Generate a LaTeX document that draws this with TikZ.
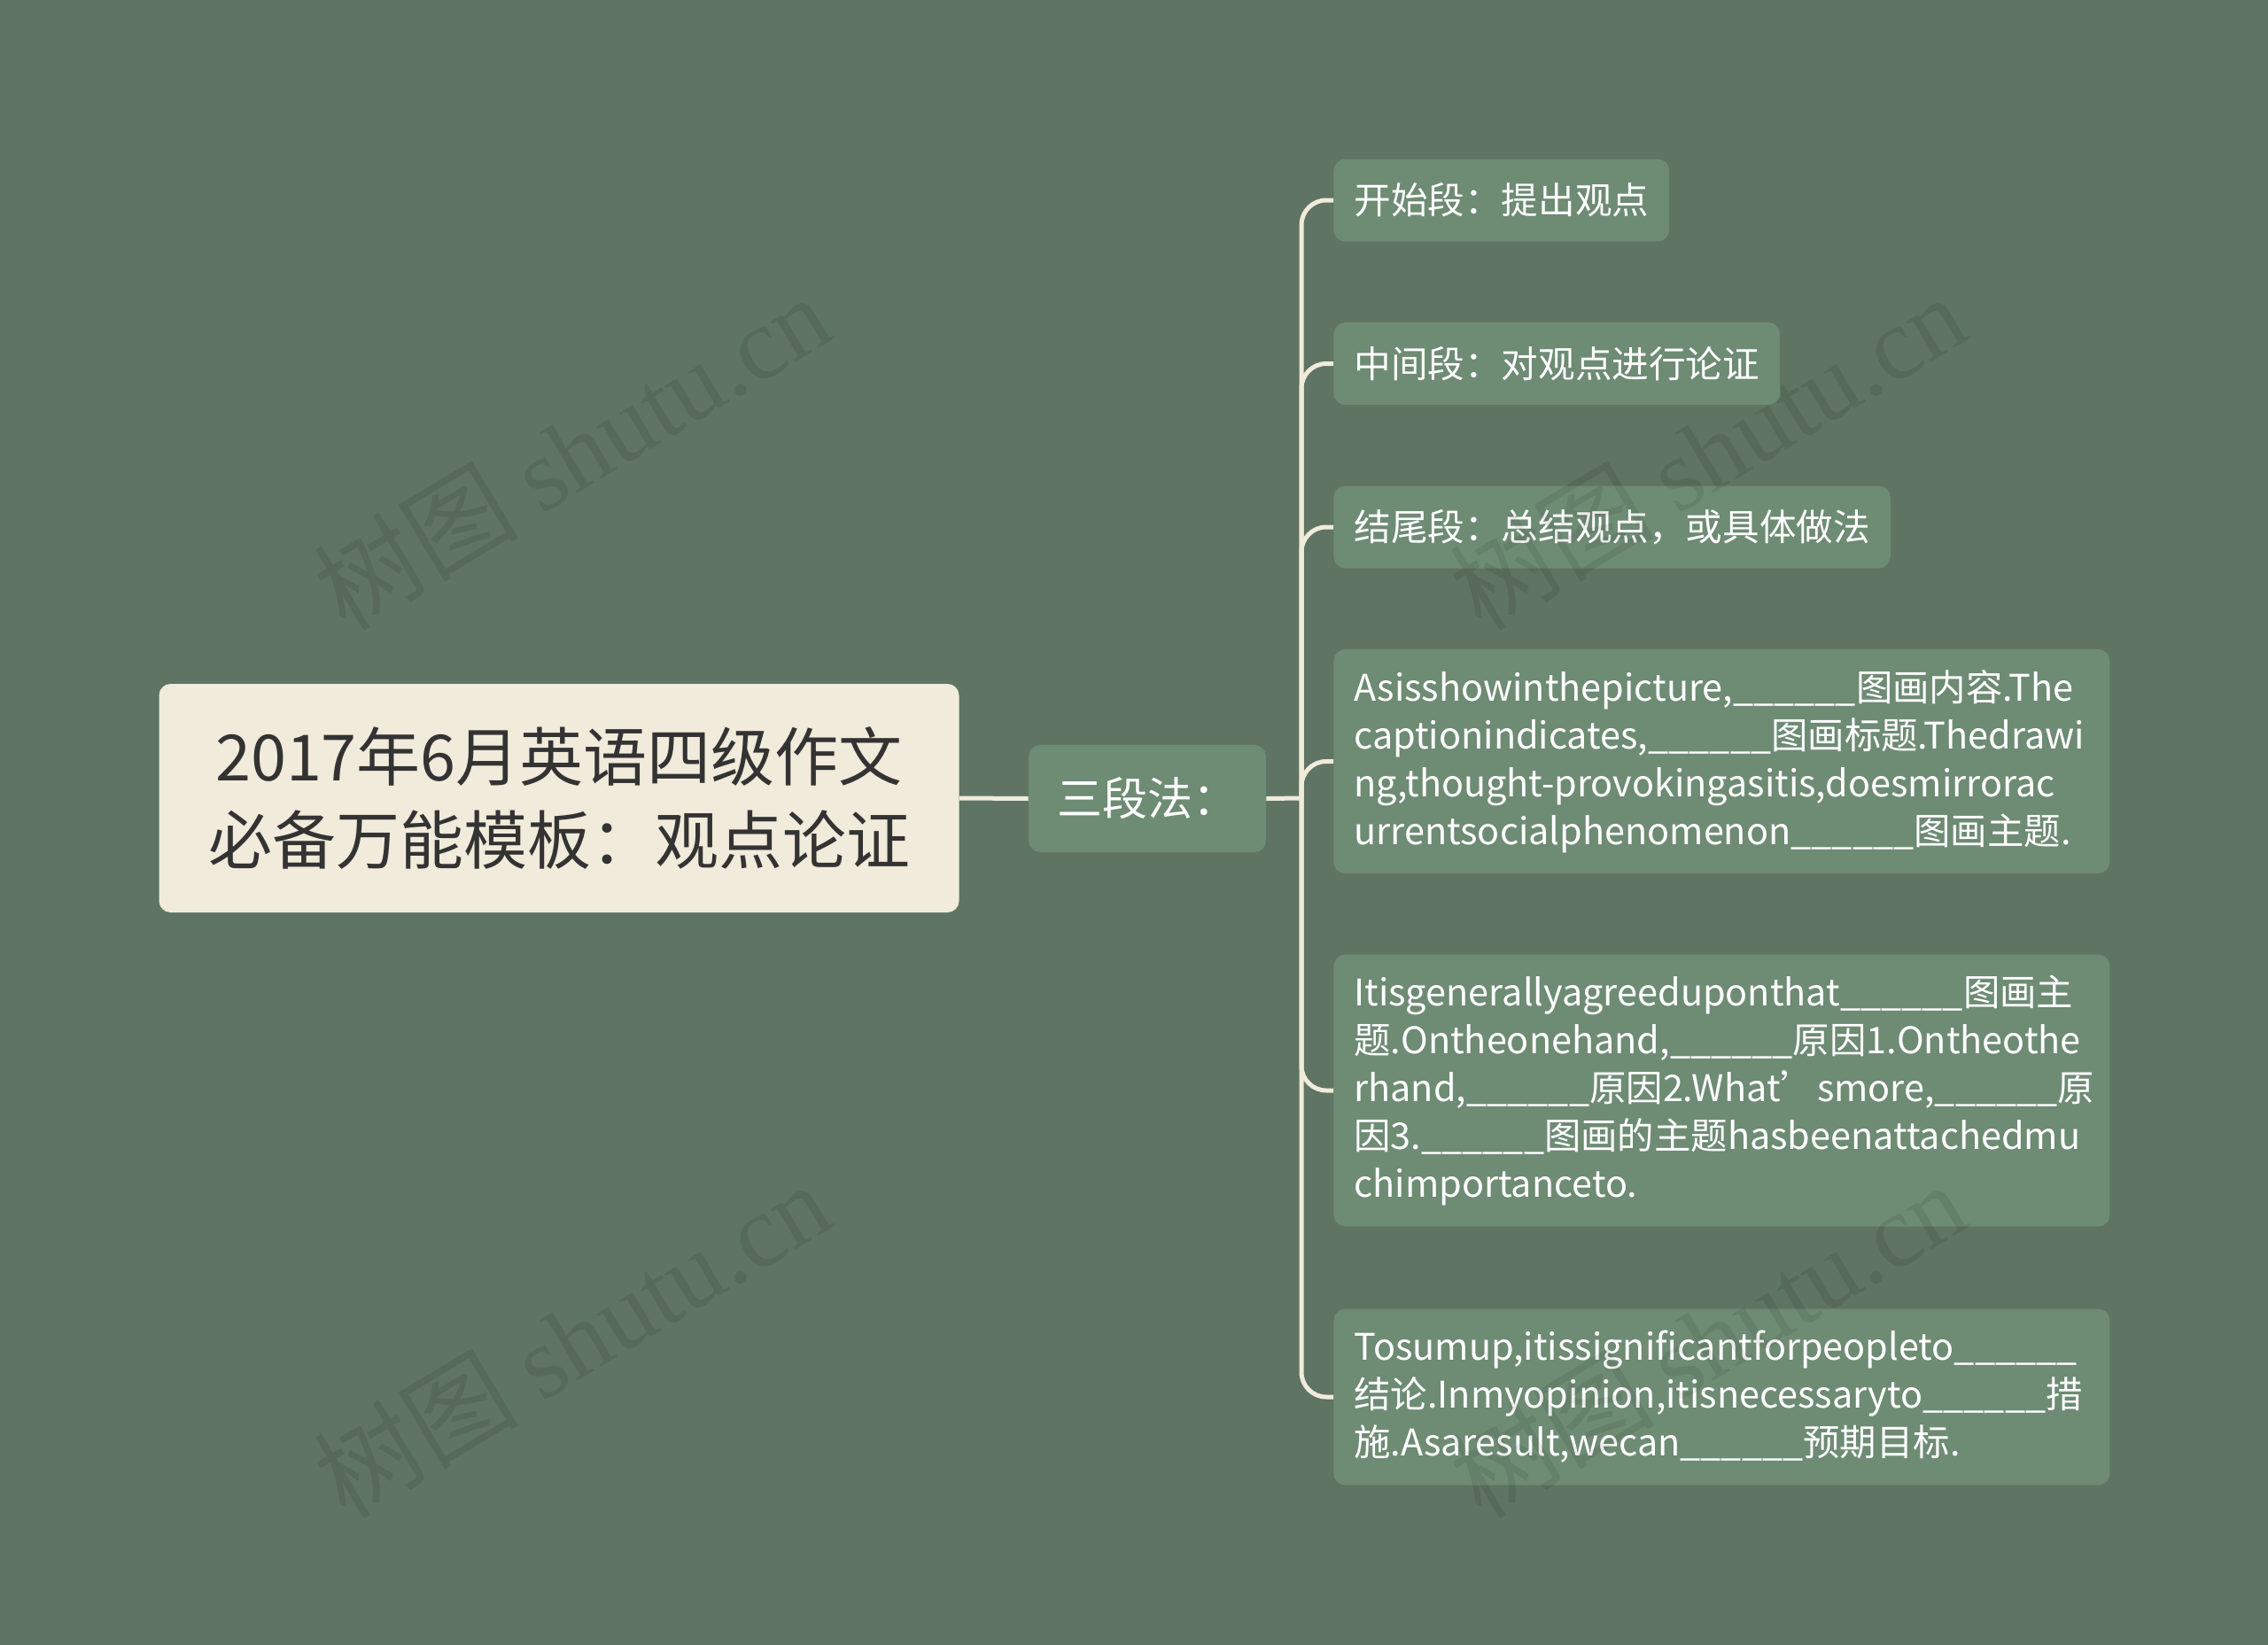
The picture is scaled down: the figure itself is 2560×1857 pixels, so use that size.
\documentclass[tikz,border=0pt]{standalone}
\usepackage{fontspec}
\setmainfont{Noto Sans CJK SC}
\newfontfamily\wmfont{Liberation Serif}
\definecolor{bgcol}{HTML}{5F7462}
\definecolor{boxcol}{HTML}{6E8B74}
\definecolor{creamcol}{HTML}{F0EBDA}
\definecolor{inkcol}{HTML}{333333}
\hyphenpenalty=10000
\exhyphenpenalty=10000

\begin{document}
\begin{tikzpicture}[x=0.5pt,y=-0.5pt,
        link/.style={creamcol, line width=2.5pt, rounded corners=14pt},
        leaf/.style={fill=boxcol, text=white, rounded corners=6.5pt, anchor=west,
            inner xsep=11.5pt, minimum height=46.5pt, font=\fontsize{20.8}{27}\selectfont},
        para/.style={leaf, text width=415pt, align=left,
            font=\fontsize{20.7}{27}\selectfont},
        wmark/.style={black, opacity=0.08, rotate=31, font=\fontsize{58}{60}\selectfont}]
        \useasboundingbox (0,0) rectangle (2560,1857);
        \fill [bgcol] (0,0) rectangle (2560,1857);
        
        % centre and first branch
        \node [fill=creamcol, text=inkcol, rounded corners=6.5pt, align=center,
            minimum width=451.5pt, minimum height=129pt,
            font=\fontsize{36}{47}\selectfont] (root) at (631,901)
            {2017年6月英语四级作文\\必备万能模板：观点论证};
        \node [fill=boxcol, text=white, rounded corners=6.5pt,
            minimum width=134pt, minimum height=60.5pt,
            font=\fontsize{25.5}{30}\selectfont] (mid) at (1295,901.5) {三段法：};
        \coordinate (j) at (1469,901);
        
        % leaves
        \node [leaf] (open) at (1505,226) {开始段：提出观点};
        \node [leaf] (body) at (1505,410.5) {中间段：对观点进行论证};
        \node [leaf] (close) at (1505,595) {结尾段：总结观点，或具体做法};
        \node [para, minimum height=126.5pt] (tplA) at (1505,859.5)
            {Asisshowinthepicture,\_\_\_\_\_\_图画内容.The\\
             captionindicates,\_\_\_\_\_\_图画标题.Thedrawi\\
             ng,thought-provokingasitis,doesmirrorac\\
             urrentsocialphenomenon\_\_\_\_\_\_图画主题.};
        \node [para, minimum height=153.5pt] (tplB) at (1505,1231)
            {Itisgenerallyagreeduponthat\_\_\_\_\_\_图画主\\
             题.Ontheonehand,\_\_\_\_\_\_原因1.Ontheothe\\
             rhand,\_\_\_\_\_\_原因2.What’smore,\_\_\_\_\_\_原\\
             因3.\_\_\_\_\_\_图画的主题hasbeenattachedmu\\
             chimportanceto.};
        \node [para, minimum height=99.5pt] (tplC) at (1505,1577)
            {Tosumup,itissignificantforpeopleto\_\_\_\_\_\_\\
             结论.Inmyopinion,itisnecessaryto\_\_\_\_\_\_措\\
             施.Asaresult,wecan\_\_\_\_\_\_预期目标.};
        
        % connectors
        \draw [link] (root.east) -- (mid.west);
        \draw [link] (mid.east) -- (j);
        \draw [link] (j) |- (open.west);
        \draw [link] (j) |- (body.west);
        \draw [link] (j) |- (close.west);
        \draw [link] (j) |- (tplA.west);
        \draw [link] (j) |- (tplB.west);
        \draw [link] (j) |- (tplC.west);
        
        % watermarks
        \node [wmark] (wm1) at (645,510) {树图 {\wmfont shutu.cn}};
        \node [wmark] (wm2) at (1927,510) {树图 {\wmfont shutu.cn}};
        \node [wmark] (wm3) at (645,1512) {树图 {\wmfont shutu.cn}};
        \node [wmark] (wm4) at (1927,1512) {树图 {\wmfont shutu.cn}};
\end{tikzpicture}
\end{document}
